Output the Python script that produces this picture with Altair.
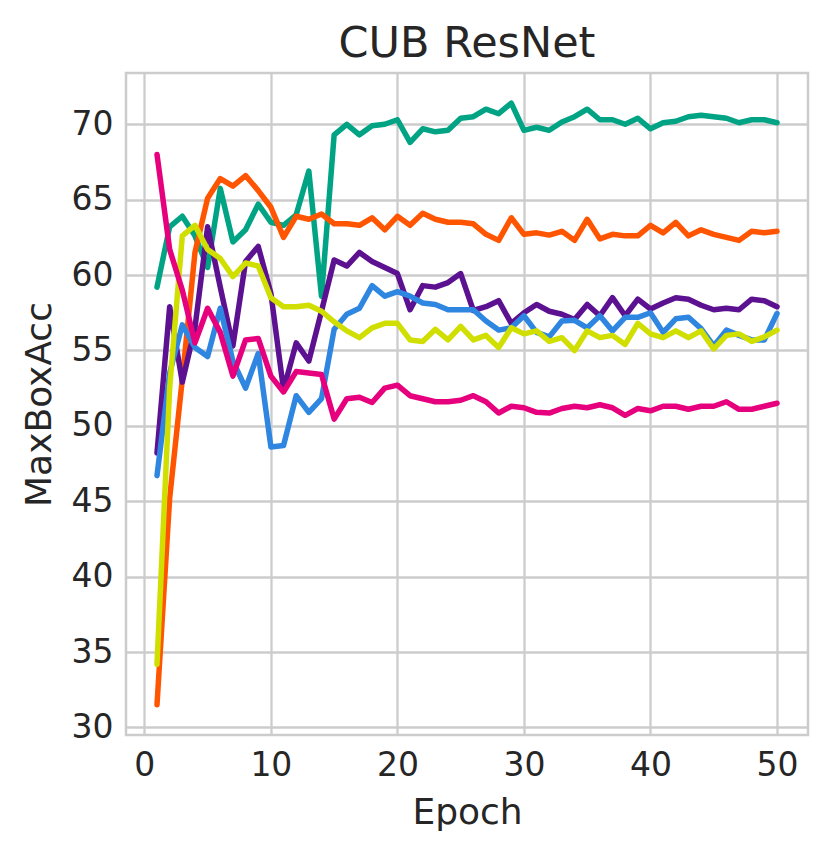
import altair as alt
import pandas as pd

epochs = list(range(1, 51))

series_names = ["teal", "orange", "purple", "blue", "yellow", "pink"]
series_colors = ["#00A383", "#FF5500", "#5C1190", "#2E86E0", "#D0DF00", "#E6007E"]

teal = [59.2, 63.2, 63.9, 62.6, 60.5, 65.75, 62.2, 63.0, 64.7, 63.5,
        63.3, 64.0, 66.9, 58.6, 69.3, 70.0, 69.3, 69.9, 70.0, 70.3,
        68.8, 69.7, 69.5, 69.6, 70.4, 70.5, 71.0, 70.7, 71.4, 69.6,
        69.8, 69.6, 70.15, 70.5, 71.0, 70.3, 70.3, 70.0, 70.4, 69.7,
        70.1, 70.2, 70.5, 70.6, 70.5, 70.4, 70.1, 70.3, 70.3, 70.1]

orange = [31.5, 45.2, 53.1, 61.5, 65.1, 66.4, 65.9, 66.6, 65.6, 64.5,
          62.5, 63.9, 63.7, 64.05, 63.4, 63.4, 63.3, 63.8, 63.0, 63.9,
          63.3, 64.1, 63.7, 63.5, 63.5, 63.4, 62.7, 62.3, 63.8, 62.7,
          62.8, 62.65, 62.9, 62.3, 63.7, 62.4, 62.7, 62.6, 62.6, 63.3,
          62.8, 63.5, 62.6, 63.0, 62.7, 62.5, 62.3, 62.9, 62.8, 62.9]

purple = [48.2, 57.9, 52.9, 56.5, 63.2, 59.2, 55.3, 60.9, 61.9, 58.8,
          52.4, 55.5, 54.3, 57.6, 61.0, 60.6, 61.5, 60.9, 60.5, 60.1,
          57.7, 59.3, 59.2, 59.5, 60.1, 57.65, 57.9, 58.3, 56.8, 57.5,
          58.05, 57.6, 57.4, 57.05, 58.05, 57.3, 58.5, 57.3, 58.4, 57.75,
          58.15, 58.5, 58.4, 58.0, 57.7, 57.8, 57.7, 58.4, 58.3, 57.9]

blue = [46.7, 53.5, 56.7, 55.2, 54.6, 57.8, 54.3, 52.5, 54.8, 48.6,
        48.7, 52.0, 50.9, 51.8, 56.4, 57.4, 57.8, 59.3, 58.6, 58.9,
        58.6, 58.15, 58.05, 57.7, 57.7, 57.7, 56.95, 56.35, 56.5, 57.3,
        56.2, 55.9, 56.95, 57.0, 56.5, 57.3, 56.3, 57.2, 57.2, 57.5,
        56.2, 57.1, 57.2, 56.45, 55.3, 56.35, 56.0, 55.7, 55.7, 57.45]

yellow = [34.2, 52.5, 62.6, 63.3, 61.7, 61.1, 59.9, 60.8, 60.6, 58.5,
          57.9, 57.9, 58.0, 57.6, 56.9, 56.3, 55.85, 56.5, 56.8, 56.8,
          55.7, 55.6, 56.4, 55.7, 56.6, 55.7, 56.0, 55.2, 56.5, 56.1,
          56.3, 55.6, 55.85, 55.0, 56.3, 55.85, 56.0, 55.4, 56.8, 56.1,
          55.85, 56.3, 55.85, 56.3, 55.1, 56.0, 56.1, 55.6, 55.9, 56.35]

pink = [68.0, 61.7, 59.0, 55.5, 57.8, 56.2, 53.3, 55.7, 55.8, 53.3,
        52.25, 53.6, 53.5, 53.4, 50.45, 51.8, 51.9, 51.55, 52.5, 52.7,
        52.0, 51.8, 51.6, 51.6, 51.7, 52.0, 51.6, 50.85, 51.3, 51.2,
        50.9, 50.85, 51.15, 51.3, 51.2, 51.4, 51.2, 50.7, 51.15, 51.0,
        51.3, 51.3, 51.1, 51.3, 51.3, 51.6, 51.1, 51.1, 51.3, 51.5]

x_ticks = [0, 10, 20, 30, 40, 50]
y_ticks = [30, 35, 40, 45, 50, 55, 60, 65, 70]

all_series = [teal, orange, purple, blue, yellow, pink]
rows = []
for idx, (name, vals) in enumerate(zip(series_names, all_series)):
    for e, v in zip(epochs, vals):
        rows.append({"series": name, "order": idx, "Epoch": e, "MaxBoxAcc": v})
df = pd.DataFrame(rows)

W, H = 682, 662

chart = alt.Chart(df).mark_line(
    strokeWidth=5.5, strokeCap="round", strokeJoin="round"
).encode(
    x=alt.X("Epoch:Q",
            scale=alt.Scale(domain=[-1.45, 52.45], nice=False, zero=False),
            axis=alt.Axis(values=x_ticks, format="d", title="Epoch",
                          labelPadding=14, titleX=W / 2, titleY=88,
                          titleBaseline="alphabetic", titleAlign="center")),
    y=alt.Y("MaxBoxAcc:Q",
            scale=alt.Scale(domain=[29.5, 73.4], nice=False, zero=False),
            axis=alt.Axis(values=y_ticks, format="d", title="MaxBoxAcc",
                          labelPadding=13, titleX=-76, titleY=H / 2,
                          titleAngle=270, titleBaseline="alphabetic",
                          titleAlign="center")),
    color=alt.Color("series:N",
                    scale=alt.Scale(domain=series_names, range=series_colors),
                    legend=None),
    detail="series:N",
).properties(
    width=W,
    height=H,
    title=alt.TitleParams("CUB ResNet", fontSize=43, fontWeight="normal",
                          color="#262626", font="DejaVu Sans",
                          baseline="bottom", offset=7, dy=43, anchor="middle"),
    autosize=alt.AutoSizeParams(type="none"),
    padding={"left": 118, "top": 65, "right": 8, "bottom": 100},
).configure(
    font="DejaVu Sans",
).configure_axis(
    labelFont="DejaVu Sans",
    titleFont="DejaVu Sans",
    labelFontSize=33,
    titleFontSize=36,
    titleFontWeight="normal",
    labelColor="#262626",
    titleColor="#262626",
    grid=True,
    gridColor="#cccccc",
    gridWidth=2.3,
    ticks=False,
    domain=False,
    labelOverlap=False,
    labelFlush=False,
).configure_view(
    stroke="#cccccc",
    strokeWidth=2.5,
)

chart.save("out.html", embed_options={"renderer": "svg", "actions": False})
